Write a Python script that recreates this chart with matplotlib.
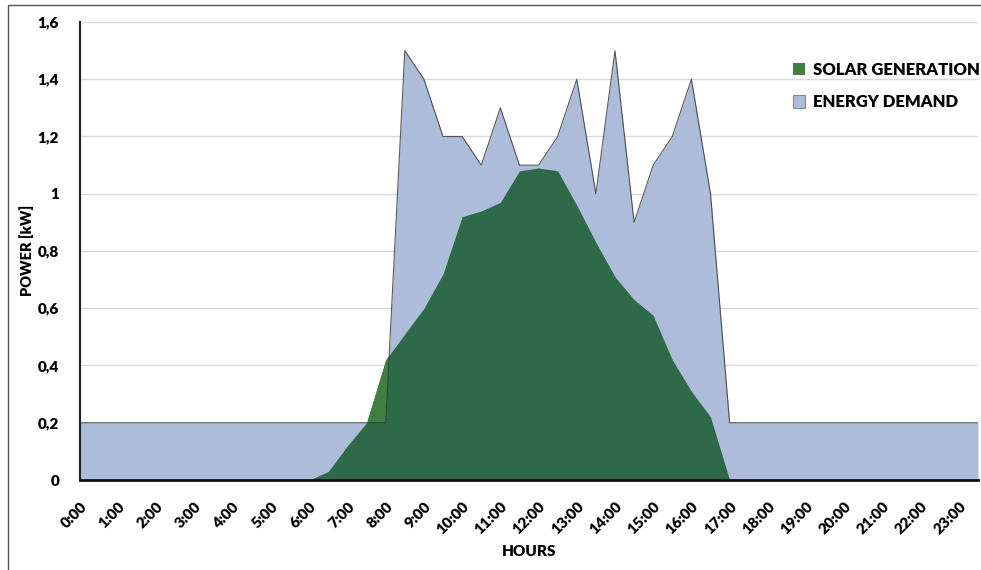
import matplotlib
matplotlib.use("Agg")
import matplotlib.pyplot as plt
from matplotlib.patches import Patch, Rectangle
from matplotlib.ticker import FuncFormatter, MultipleLocator
import numpy as np

plt.rcParams['font.family'] = ['Lato', 'DejaVu Sans']
W = 'heavy'
plt.rcParams['font.weight'] = W

# half-hour steps, 0:00 .. 23:30
times = [f"{h}:{m:02d}" for h in range(24) for m in (0, 30)]
hour_labels = [f"{h}:00" for h in range(24)]

energy_demand = ([0.2] * 17 +
                 [1.5, 1.4, 1.2, 1.2, 1.1, 1.3, 1.1, 1.1, 1.2, 1.4, 1.0,
                  1.5, 0.9, 1.1, 1.2, 1.4, 1.0] +
                 [0.2] * 14)
solar_generation = ([0.0] * 13 +
                    [0.03, 0.12, 0.2, 0.42, 0.51, 0.60, 0.72, 0.92, 0.94,
                     0.97, 1.08, 1.09, 1.08, 0.96, 0.83, 0.71, 0.63, 0.575,
                     0.42, 0.31, 0.22] +
                    [0.0] * 14)

BLUE = '#adbcd9'
DARK_GREEN = '#2e6a49'
GREEN = '#3f7f3f'

x = np.arange(len(times))
d = np.array(energy_demand)
s = np.array(solar_generation)

fig = plt.figure(figsize=(9.81, 5.70), dpi=100)
ax = fig.add_axes([80 / 981, 1 - 480 / 570, 898 / 981, 458 / 570])

ax.fill_between(x, 0, d, color=BLUE, lw=0, zorder=2)
ax.fill_between(x, 0, s, color=DARK_GREEN, lw=0, zorder=3)
ax.fill_between(x, d, s, where=s > d, interpolate=True, color=GREEN, lw=0, zorder=4)
ax.plot(x, d, color='#333333', lw=0.8, alpha=0.8, zorder=5)

ax.set_xlim(0, len(times) - 1)
ax.set_ylim(0, 1.6)
ax.yaxis.set_major_locator(MultipleLocator(0.2))
ax.yaxis.set_major_formatter(FuncFormatter(
    lambda v, p: '0' if abs(v) < 1e-9 else ('1' if abs(v - 1) < 1e-9 else f"{v:.1f}".replace('.', ','))))
ax.grid(axis='y', color='#d9d9d9', lw=1.0, zorder=1)
ax.set_axisbelow(True)

ax.set_xticks(x[::2])
ax.set_xticklabels(hour_labels, rotation=45, ha='right', va='top',
                   rotation_mode='anchor', fontsize=11, fontweight=W)
ax.tick_params(axis='x', length=0, pad=14)
ax.tick_params(axis='y', length=0, pad=15, labelsize=11)
for t in ax.get_yticklabels():
    t.set_fontweight(W)

for side in ('top', 'right'):
    ax.spines[side].set_visible(False)
ax.spines['left'].set_color('#222222')
ax.spines['left'].set_linewidth(1.5)
ax.spines['bottom'].set_color('#111111')
ax.spines['bottom'].set_linewidth(2.0)
ax.spines['left'].set_zorder(6)
ax.spines['bottom'].set_zorder(6)

ax.set_ylabel('POWER [kW]', fontsize=10.5, fontweight=W, va='center')
ax.yaxis.set_label_coords(-(80 - 27) / 898, 0.5 + (251 - 250) / 458)
ax.set_xlabel('HOURS', fontsize=11, fontweight=W, va='center')
ax.xaxis.set_label_coords(0.5, -(551 - 480) / 458)

handles = [Patch(facecolor=GREEN, edgecolor='none', label='SOLAR GENERATION'),
           Patch(facecolor=BLUE, edgecolor='#888888', lw=0.8, label='ENERGY DEMAND')]
leg = ax.legend(handles=handles, loc='upper left',
                bbox_to_anchor=((786 - 80) / 898, (480 - 55) / 458),
                frameon=False, fontsize=12, handlelength=0.75, handleheight=0.75,
                handletextpad=0.45, labelspacing=1.0, borderaxespad=0)
for t in leg.get_texts():
    t.set_fontweight(W)

# outer frame
fig.patches.append(Rectangle((8 / 981, -0.1), 1.2, (565 / 570) + 0.1,
                             transform=fig.transFigure, fill=False,
                             edgecolor='#555555', lw=1.0))

fig.savefig('out.png', dpi=100)
